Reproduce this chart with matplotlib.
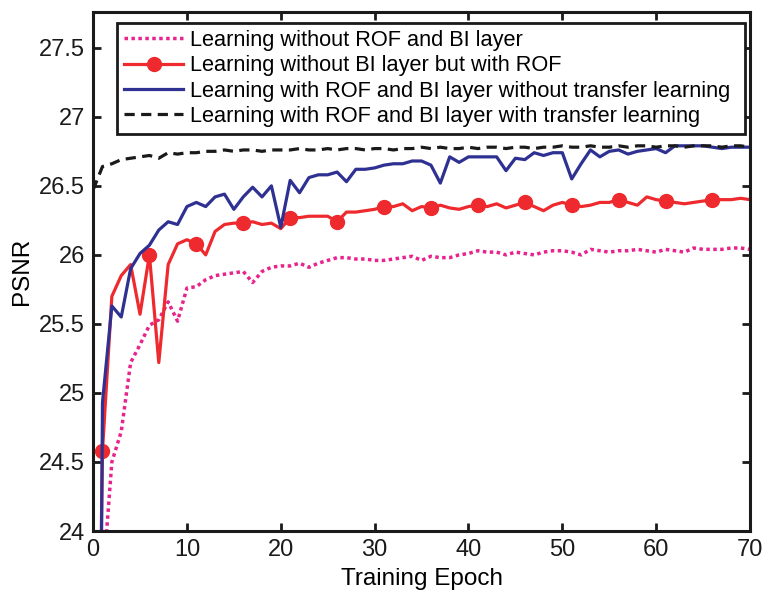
import matplotlib
matplotlib.use('Agg')
from matplotlib import pyplot as plt
from matplotlib.ticker import FuncFormatter

plt.rcParams['font.family'] = ['Liberation Sans', 'DejaVu Sans']

epochs = list(range(0, 71))

# PSNR per epoch (epoch 0 = initial model)
no_rof_no_bi = [20.0, 23.6, 24.5, 24.72, 25.22, 25.35, 25.49, 25.53, 25.66, 25.52,
                25.76, 25.77, 25.82, 25.85, 25.86, 25.87, 25.88, 25.80, 25.88, 25.91,
                25.92, 25.92, 25.94, 25.91, 25.94, 25.96, 25.98, 25.98, 25.97, 25.97,
                25.96, 25.96, 25.97, 25.98, 25.99, 25.96, 25.99, 25.98, 25.98, 26.00,
                26.01, 26.03, 26.02, 26.02, 26.00, 26.02, 26.01, 26.00, 26.02, 26.03,
                26.03, 26.02, 26.00, 26.04, 26.03, 26.02, 26.03, 26.03, 26.04, 26.03,
                26.02, 26.04, 26.03, 26.02, 26.05, 26.04, 26.04, 26.04, 26.05, 26.05,
                26.04]
rof_no_bi = [20.0, 24.58, 25.70, 25.85, 25.93, 25.57, 26.00, 25.22, 25.93, 26.08,
             26.11, 26.08, 26.00, 26.17, 26.22, 26.23, 26.23, 26.24, 26.22, 26.23,
             26.19, 26.27, 26.27, 26.28, 26.28, 26.28, 26.24, 26.31, 26.31, 26.32,
             26.33, 26.35, 26.35, 26.37, 26.32, 26.35, 26.34, 26.36, 26.34, 26.33,
             26.35, 26.36, 26.35, 26.37, 26.34, 26.36, 26.38, 26.35, 26.32, 26.36,
             26.38, 26.36, 26.35, 26.36, 26.38, 26.38, 26.40, 26.38, 26.36, 26.42,
             26.40, 26.39, 26.38, 26.37, 26.38, 26.39, 26.40, 26.40, 26.40, 26.41,
             26.40]
rof_bi = [15.0, 24.93, 25.63, 25.55, 25.90, 26.01, 26.07, 26.18, 26.24, 26.22,
          26.35, 26.38, 26.35, 26.42, 26.44, 26.33, 26.42, 26.49, 26.42, 26.50,
          26.20, 26.54, 26.45, 26.56, 26.58, 26.58, 26.60, 26.53, 26.62, 26.62,
          26.63, 26.65, 26.66, 26.66, 26.68, 26.68, 26.65, 26.52, 26.71, 26.67,
          26.71, 26.71, 26.71, 26.71, 26.61, 26.70, 26.69, 26.74, 26.72, 26.74,
          26.74, 26.55, 26.66, 26.76, 26.71, 26.75, 26.76, 26.73, 26.75, 26.76,
          26.77, 26.74, 26.79, 26.79, 26.79, 26.79, 26.78, 26.77, 26.78, 26.78,
          26.78]
rof_bi_transfer = [26.47, 26.64, 26.66, 26.69, 26.70, 26.71, 26.72, 26.70, 26.74, 26.73,
                   26.74, 26.74, 26.75, 26.75, 26.76, 26.75, 26.76, 26.76, 26.75, 26.76,
                   26.76, 26.76, 26.77, 26.76, 26.76, 26.77, 26.76, 26.77, 26.77, 26.76,
                   26.77, 26.77, 26.76, 26.77, 26.77, 26.78, 26.77, 26.78, 26.77, 26.77,
                   26.78, 26.77, 26.78, 26.78, 26.77, 26.78, 26.78, 26.77, 26.78, 26.78,
                   26.79, 26.78, 26.78, 26.79, 26.78, 26.78, 26.79, 26.78, 26.79, 26.79,
                   26.78, 26.79, 26.79, 26.78, 26.79, 26.79, 26.79, 26.78, 26.79, 26.79,
                   26.78]

labels = ['Learning without ROF and BI layer',
          'Learning without BI layer but with ROF',
          'Learning with ROF and BI layer without transfer learning',
          'Learning with ROF and BI layer with transfer learning']

fig = plt.figure(figsize=(7.63, 5.94), dpi=100)
ax = fig.add_axes([0.122, 0.106, 0.861, 0.874])

ax.plot(epochs, no_rof_no_bi, color='#E8238C', linestyle=(0, (1, 1)), linewidth=2.5,
        label=labels[0])
ax.plot(epochs, rof_no_bi, color='#EE2A2E', linewidth=2.3, marker='o', markersize=10,
        markevery=(1, 5), label=labels[1])
ax.plot(epochs, rof_bi, color='#2E3192', linewidth=2.3, label=labels[2])
ax.plot(epochs, rof_bi_transfer, color='#1A1A1A', linestyle=(0, (3.2, 2)), linewidth=2.3,
        label=labels[3])

ax.set_xlim(0, 70)
ax.set_ylim(24, 27.76)
ax.set_xticks(range(0, 71, 10))
ax.set_yticks([24, 24.5, 25, 25.5, 26, 26.5, 27, 27.5])
ax.yaxis.set_major_formatter(FuncFormatter(lambda v, p: '%g' % v))
ax.tick_params(direction='in', length=6, width=2, labelsize=17, top=True, right=True,
               colors='#1A1A1A', pad=6)
for s in ax.spines.values():
    s.set_linewidth(2.2)
    s.set_color('#1A1A1A')

ax.set_xlabel('Training Epoch', fontsize=17.5, labelpad=5)
ax.set_ylabel('PSNR', fontsize=17.5, labelpad=4)

# legend frame stretched across the top of the axes
leg = ax.legend(loc='upper left', bbox_to_anchor=(0.0365, 0.979, 0.956, 0.0), mode='expand',
                borderaxespad=0, fontsize=15.7, fancybox=False, framealpha=1,
                edgecolor='#1A1A1A', labelspacing=0.2, handlelength=2.7,
                handletextpad=0.3, borderpad=0.33)
leg.get_frame().set_linewidth(2)

plt.savefig('out.png', dpi=100)
